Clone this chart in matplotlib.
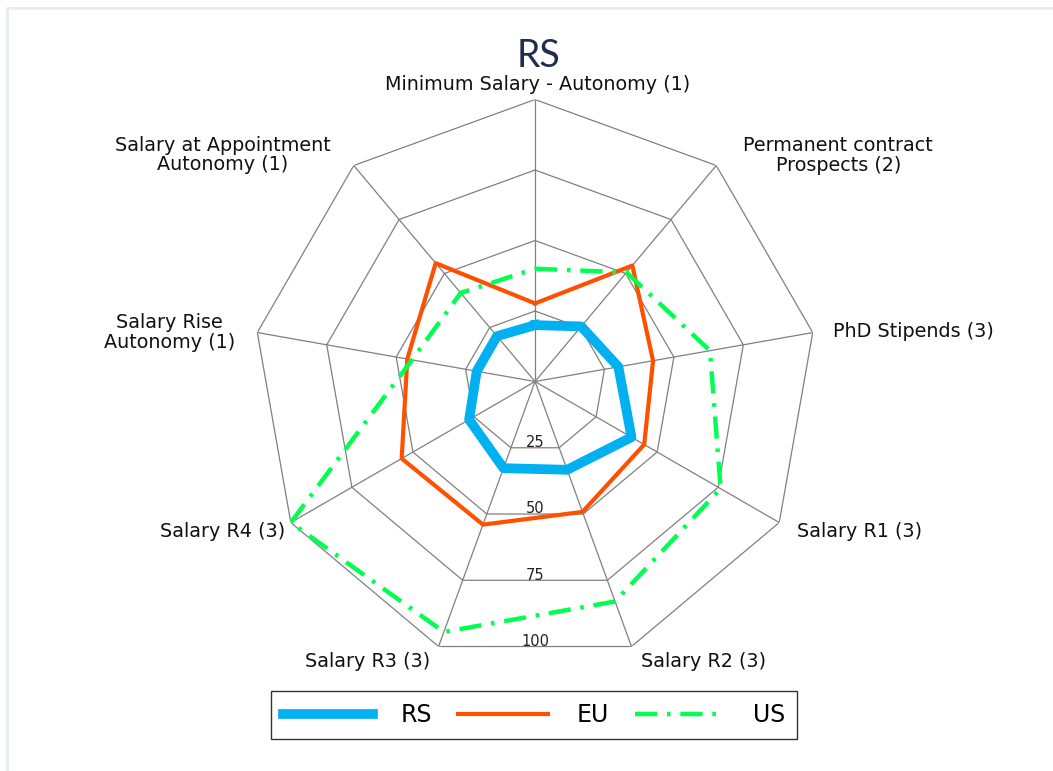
import numpy as np
import matplotlib
matplotlib.use("Agg")
import matplotlib.pyplot as plt
from matplotlib.patches import Rectangle

plt.rcParams['font.family'] = ['DejaVu Sans']

# categories, clockwise from the top
categories = ["Minimum Salary - Autonomy (1)", "Permanent contract\nProspects (2)",
              "PhD Stipends (3)", "Salary R1 (3)", "Salary R2 (3)", "Salary R3 (3)",
              "Salary R4 (3)", "Salary Rise\nAutonomy (1)",
              "Salary at Appointment\nAutonomy (1)"]
rs = [20, 25.5, 30, 39.5, 33.3, 32.7, 27, 21, 21]
eu = [27.7, 53.7, 42.5, 44.7, 49.2, 54, 54.6, 46, 54.8]
us = [40, 50.5, 63, 76, 83, 94.5, 100, 44.3, 41]
levels = [25, 50, 75, 100]

n = len(categories)
theta = np.linspace(0, 2 * np.pi, n, endpoint=False)
closed = np.append(theta, theta[0])

fig = plt.figure(figsize=(10.53, 7.71), dpi=100)
fig.patches.append(Rectangle((7 / 1053, -0.1), 1.2, 1 - 8 / 771 + 0.1, transform=fig.transFigure,
                             fill=False, edgecolor='#e3eef3', linewidth=2))

ax = fig.add_axes([0.2403, 0.1394, 0.5356, 0.7315], projection='polar')
ax.set_theta_offset(np.pi / 2)
ax.set_theta_direction(-1)
ax.set_ylim(0, 100)
ax.grid(False)
ax.spines['polar'].set_visible(False)
ax.set_xticks([])
ax.set_yticks([])

# polygon grid and spokes
for lv in levels:
    ax.plot(closed, [lv] * (n + 1), color='#808080', linewidth=0.9, zorder=1)
for t in theta:
    ax.plot([t, t], [0, 100], color='#808080', linewidth=0.9, zorder=1)

# ring labels sit on the bottom edge of each ring
for lv in levels:
    ax.text(np.pi, lv * np.cos(np.pi / n) + 0.8, str(lv), ha='center', va='bottom',
            fontsize=10.5, color='#222222', zorder=2)

ax.plot(closed, rs + rs[:1], color='#00b0f0', linewidth=7, label='RS', zorder=3)
ax.plot(closed, eu + eu[:1], color='#ff5000', linewidth=3, label='EU', zorder=4)
ax.plot(closed, us + us[:1], color='#00ff50', linewidth=3.2, label='US', zorder=5,
        dashes=(5, 2.2, 0.8, 2.2))

# category labels (offsets in pixels from the outer vertex)
placement = [((3, 15), 'center'), ((122, 10), 'center'), ((20, 1), 'left'),
             ((18, -8.5), 'left'), ((9.5, -14.5), 'left'), ((-8.5, -14.5), 'right'),
             ((-6, -8.5), 'right'), ((-88, 0), 'center'), ((-131, 10.5), 'center')]
for t, lab, (off, ha) in zip(theta, categories, placement):
    ax.annotate(lab, xy=(t, 100), xytext=off, textcoords='offset pixels',
                ha=ha, va='center', multialignment='center', fontsize=13.8,
                color='#111111', linespacing=1.05, annotation_clip=False)

fig.text(538 / 1053, 1 - 56 / 771, 'RS', ha='center', va='center', fontsize=27,
         color='#1f2d50', family='Lato')

leg = fig.legend(loc='center', bbox_to_anchor=(534 / 1053, 1 - 715 / 771), ncol=3,
                 fontsize=17, frameon=True, fancybox=False, edgecolor='black',
                 handlelength=3.8, columnspacing=1.1, handletextpad=1.2,
                 borderpad=0.5, borderaxespad=0)
leg.get_frame().set_linewidth(1.0)

fig.savefig('out.png', dpi=100)
